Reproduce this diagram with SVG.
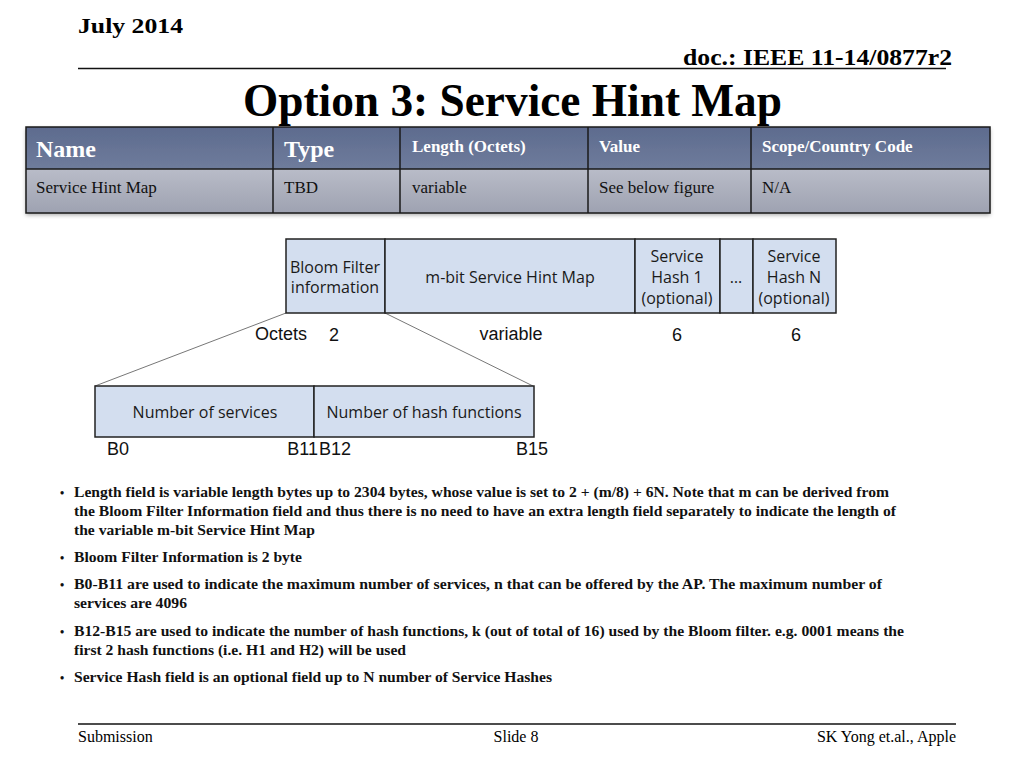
<svg xmlns="http://www.w3.org/2000/svg" width="1024" height="768" viewBox="0 0 1024 768">
<defs>
<linearGradient id="hdr" x1="0" y1="0" x2="0" y2="1"><stop offset="0" stop-color="#5d6b8e"/><stop offset="1" stop-color="#6f7c9c"/></linearGradient>
<linearGradient id="bdy" x1="0" y1="0" x2="0" y2="1"><stop offset="0" stop-color="#b9bcc8"/><stop offset="1" stop-color="#9ea2b1"/></linearGradient>
<filter id="sh" x="-5%" y="-10%" width="110%" height="130%"><feDropShadow dx="0" dy="2" stdDeviation="2" flood-color="#000" flood-opacity="0.35"/></filter>
<style>
.ser{font-family:"Liberation Serif","Times New Roman",serif}
.hb{font-family:"Liberation Serif",serif;font-weight:bold;fill:#fff}
.bt{font-family:"Liberation Serif",serif;font-size:17px;fill:#111}
.cell{stroke:#1a1a1a;stroke-width:1.5}
.fld{fill:#d3deef;stroke:#222;stroke-width:1.5}
.ft{font-family:"Open Sans","DejaVu Sans",sans-serif;font-size:16px;fill:#1a1a1a;text-anchor:middle}
.lab{font-family:"Liberation Sans",Arial,sans-serif;font-size:18px;fill:#111}
.bul{font-family:"Liberation Serif","Times New Roman",serif;font-weight:bold;font-size:15px;fill:#111}
.con{stroke:#777;stroke-width:1;fill:none}
</style>
</defs>
<rect width="1024" height="768" fill="#fff"/>
<g id="header">
<text x="78" y="33" class="ser" font-size="22" font-weight="bold" textLength="105" lengthAdjust="spacingAndGlyphs">July 2014</text>
<text x="683" y="65" class="ser" font-size="24" font-weight="bold" textLength="269" lengthAdjust="spacingAndGlyphs">doc.: IEEE 11-14/0877r2</text>
<line x1="78" y1="68.5" x2="946" y2="68.5" stroke="#111" stroke-width="1.5"/>
<text x="243" y="116" class="ser" font-size="46" font-weight="bold" textLength="539" lengthAdjust="spacingAndGlyphs">Option 3: Service Hint Map</text>
</g>
<g id="table">
<g filter="url(#sh)">
<rect x="26" y="127" width="964" height="42" fill="url(#hdr)"/>
<rect x="26" y="169" width="964" height="44" fill="url(#bdy)"/>
</g>
<g class="cell" fill="none">
<rect x="26" y="127" width="964" height="86"/>
<line x1="26" y1="169" x2="990" y2="169"/>
<line x1="273" y1="127" x2="273" y2="213"/>
<line x1="400" y1="127" x2="400" y2="213"/>
<line x1="588" y1="127" x2="588" y2="213"/>
<line x1="751" y1="127" x2="751" y2="213"/>
</g>
<text x="36" y="157" class="hb" font-size="24">Name</text>
<text x="284" y="157" class="hb" font-size="24">Type</text>
<text x="412" y="152" class="hb" font-size="17">Length  (Octets)</text>
<text x="599" y="152" class="hb" font-size="17">Value</text>
<text x="762" y="152" class="hb" font-size="17">Scope/Country Code</text>
<text x="36" y="193" class="bt">Service Hint Map</text>
<text x="284" y="193" class="bt">TBD</text>
<text x="412" y="193" class="bt">variable</text>
<text x="599" y="193" class="bt">See below figure</text>
<text x="762" y="193" class="bt">N/A</text>
</g>
<g id="connectors">
<line class="con" x1="286" y1="313" x2="95" y2="386"/>
<line class="con" x1="385" y1="313" x2="533" y2="386"/>
</g>
<g id="field-bloom">
<rect class="fld" x="286" y="239" width="99" height="74"/>
<text class="ft" x="335" y="273">Bloom Filter</text>
<text class="ft" x="335" y="293">information</text>
</g>
<g id="field-map">
<rect class="fld" x="385" y="239" width="250" height="74"/>
<text class="ft" x="510" y="283">m-bit Service Hint Map</text>
</g>
<g id="field-hash1">
<rect class="fld" x="635" y="239" width="85" height="74"/>
<text class="ft" x="677" y="262">Service</text>
<text class="ft" x="677" y="283">Hash 1</text>
<text class="ft" x="677" y="304">(optional)</text>
</g>
<g id="field-dots">
<rect class="fld" x="720" y="239" width="33" height="74"/>
<text class="ft" x="736" y="283">…</text>
</g>
<g id="field-hashN">
<rect class="fld" x="753" y="239" width="83" height="74"/>
<text class="ft" x="794" y="262">Service</text>
<text class="ft" x="794" y="283">Hash N</text>
<text class="ft" x="794" y="304">(optional)</text>
</g>
<g id="octets">
<text class="lab" x="255" y="340">Octets</text>
<text class="lab" x="334" y="341" text-anchor="middle">2</text>
<text class="lab" x="511" y="340" text-anchor="middle">variable</text>
<text class="lab" x="677" y="341" text-anchor="middle">6</text>
<text class="lab" x="796" y="341" text-anchor="middle">6</text>
</g>
<g id="field-nserv">
<rect class="fld" x="95" y="386" width="219" height="51"/>
<text class="ft" x="205" y="418">Number of services</text>
</g>
<g id="field-nhash">
<rect class="fld" x="314" y="386" width="220" height="51"/>
<text class="ft" x="424" y="418">Number of hash functions</text>
</g>
<g id="bits">
<text class="lab" x="107" y="455">B0</text>
<text class="lab" x="318" y="455" text-anchor="end">B11</text>
<text class="lab" x="319" y="455">B12</text>
<text class="lab" x="548" y="455" text-anchor="end">B15</text>
</g>
<g id="bullets" class="bul">
<text x="60" y="497" font-size="12">•</text>
<text x="74" y="497" textLength="815" lengthAdjust="spacingAndGlyphs">Length field is variable length bytes up to 2304 bytes, whose value is set to 2 + (m/8) + 6N. Note that m can be derived from</text>
<text x="74" y="516" textLength="822" lengthAdjust="spacingAndGlyphs">the Bloom Filter Information field and thus there is no need to have an extra length field separately to indicate the length of</text>
<text x="74" y="535" textLength="241" lengthAdjust="spacingAndGlyphs">the variable m-bit Service Hint Map</text>
<text x="60" y="562" font-size="12">•</text>
<text x="74" y="562" textLength="228" lengthAdjust="spacingAndGlyphs">Bloom Filter Information is 2 byte</text>
<text x="60" y="589" font-size="12">•</text>
<text x="74" y="589" textLength="808" lengthAdjust="spacingAndGlyphs">B0-B11 are used to indicate the maximum number of services, n that can be offered by the AP.  The maximum number of</text>
<text x="74" y="608" textLength="113" lengthAdjust="spacingAndGlyphs">services are 4096</text>
<text x="60" y="636" font-size="12">•</text>
<text x="74" y="636" textLength="830" lengthAdjust="spacingAndGlyphs">B12-B15 are used to indicate the number of hash functions, k (out of total of 16) used by the Bloom filter. e.g. 0001 means the</text>
<text x="74" y="655" textLength="332" lengthAdjust="spacingAndGlyphs">first 2 hash functions (i.e. H1 and H2) will be used</text>
<text x="60" y="682" font-size="12">•</text>
<text x="74" y="682" textLength="478" lengthAdjust="spacingAndGlyphs">Service Hash field is an optional field up to N number of Service Hashes</text>
</g>
<g id="footer">
<line x1="78" y1="724" x2="956" y2="724" stroke="#111" stroke-width="1.5"/>
<text x="78" y="742" class="ser" font-size="16">Submission</text>
<text x="516" y="742" class="ser" font-size="16" text-anchor="middle">Slide 8</text>
<text x="956" y="742" class="ser" font-size="16" text-anchor="end">SK Yong et.al., Apple</text>
</g>
</svg>
